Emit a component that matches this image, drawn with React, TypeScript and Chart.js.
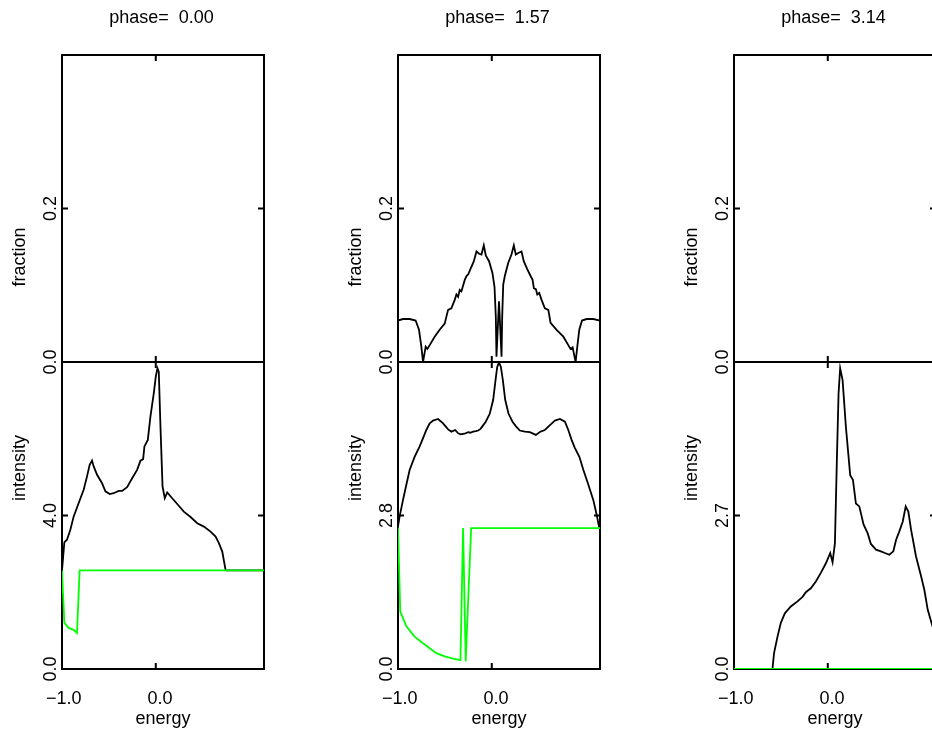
import React, { useEffect, useRef } from "react";
import { Chart, registerables } from "chart.js";

Chart.register(...registerables);

// ---------- data ----------
const energyMin = -1.0;
const energyMax = 1.154;
const energyTicks = [-1.0, 0.0];
const energyTickLabels = ["\u22121.0", " 0.0"];
const phaseTitles = ["phase=  0.00", "phase=  1.57", "phase=  3.14"];

const fractionMax = 0.4;
const fractionTicks = [0.0, 0.2];
const fractionTickLabels = ["0.0", "0.2"];

const intensityMax = [8.0, 5.6, 5.4];
const intensityTickLabels = [
  ["0.0", "4.0"],
  ["0.0", "2.8"],
  ["0.0", "2.7"],
];

// phase 0.00
const p1FracEnergy = [-1.0, 1.154];
const p1Fraction = [0.0, 0.0];
const p1IntEnergy = [-1.0, -0.975, -0.947, -0.911, -0.876, -0.823, -0.769, -0.733, -0.705, -0.68, -0.662, -0.626, -0.573, -0.537, -0.491, -0.449, -0.395, -0.359, -0.306, -0.252, -0.199, -0.163, -0.135, -0.121, -0.085, -0.057, -0.021, 0.0, 0.018, 0.032, 0.05, 0.072, 0.096, 0.122, 0.175, 0.229, 0.299, 0.371, 0.442, 0.513, 0.584, 0.638, 0.673, 0.709, 0.745, 1.154];
const p1Intensity = [2.57, 3.3, 3.37, 3.63, 3.97, 4.32, 4.67, 5.02, 5.32, 5.43, 5.28, 5.06, 4.84, 4.63, 4.56, 4.58, 4.64, 4.64, 4.74, 4.97, 5.19, 5.43, 5.47, 5.8, 5.97, 6.58, 7.19, 7.62, 7.84, 7.75, 6.32, 4.76, 4.45, 4.6, 4.45, 4.3, 4.1, 3.96, 3.8, 3.71, 3.58, 3.45, 3.28, 3.06, 2.57, 2.57];
const p1GreenEnergy = [-1.0, -0.975, -0.929, -0.876, -0.84, -0.812, 1.154];
const p1Green = [2.57, 1.2, 1.07, 1.02, 0.94, 2.57, 2.57];

// phase 1.57
const p2FracEnergy = [-1.0, -0.947, -0.876, -0.812, -0.776, -0.751, -0.733, -0.705, -0.687, -0.662, -0.609, -0.556, -0.502, -0.466, -0.431, -0.395, -0.377, -0.359, -0.342, -0.324, -0.288, -0.27, -0.252, -0.228, -0.192, -0.163, -0.135, -0.11, -0.085, -0.064, -0.028, 0.007, 0.029, 0.043, 0.05, 0.077, 0.104, 0.111, 0.122, 0.139, 0.175, 0.21, 0.235, 0.256, 0.282, 0.317, 0.342, 0.378, 0.406, 0.435, 0.449, 0.47, 0.485, 0.506, 0.531, 0.566, 0.603, 0.627, 0.691, 0.763, 0.816, 0.84, 0.862, 0.894, 0.912, 0.933, 0.962, 1.012, 1.083, 1.154];
const p2Fraction = [0.054, 0.056, 0.056, 0.054, 0.042, 0.02, 0.0, 0.02, 0.017, 0.022, 0.033, 0.042, 0.05, 0.068, 0.07, 0.081, 0.088, 0.085, 0.094, 0.092, 0.107, 0.112, 0.114, 0.121, 0.131, 0.144, 0.141, 0.14, 0.152, 0.139, 0.131, 0.116, 0.098, 0.059, 0.007, 0.079, 0.007, 0.059, 0.101, 0.112, 0.129, 0.14, 0.152, 0.14, 0.142, 0.144, 0.131, 0.121, 0.114, 0.107, 0.096, 0.095, 0.088, 0.09, 0.081, 0.07, 0.068, 0.051, 0.042, 0.033, 0.022, 0.017, 0.019, 0.0, 0.02, 0.042, 0.054, 0.056, 0.056, 0.054];
const p2IntEnergy = [-1.0, -0.983, -0.947, -0.911, -0.876, -0.823, -0.769, -0.733, -0.698, -0.662, -0.626, -0.573, -0.519, -0.466, -0.43, -0.39, -0.359, -0.33, -0.306, -0.28, -0.252, -0.23, -0.199, -0.17, -0.145, -0.12, -0.099, -0.064, -0.021, 0.015, 0.04, 0.058, 0.077, 0.097, 0.118, 0.143, 0.178, 0.221, 0.256, 0.299, 0.353, 0.406, 0.47, 0.52, 0.566, 0.62, 0.673, 0.727, 0.78, 0.816, 0.851, 0.887, 0.934, 0.977, 1.03, 1.083, 1.119, 1.143, 1.154];
const p2Intensity = [2.6, 2.78, 3.08, 3.36, 3.63, 3.87, 4.06, 4.21, 4.36, 4.48, 4.53, 4.56, 4.48, 4.37, 4.33, 4.36, 4.3, 4.28, 4.29, 4.3, 4.32, 4.31, 4.33, 4.34, 4.35, 4.38, 4.43, 4.51, 4.66, 4.91, 5.27, 5.51, 5.59, 5.51, 5.27, 4.91, 4.66, 4.51, 4.43, 4.35, 4.33, 4.32, 4.27, 4.33, 4.36, 4.45, 4.53, 4.56, 4.51, 4.36, 4.18, 4.03, 3.87, 3.63, 3.36, 3.08, 2.81, 2.6, 2.58];
const p2GreenEnergy = [-1.0, -0.976, -0.911, -0.823, -0.733, -0.662, -0.591, -0.502, -0.412, -0.334, -0.306, -0.278, -0.22, 1.154];
const p2Green = [2.58, 1.05, 0.78, 0.59, 0.47, 0.38, 0.29, 0.23, 0.19, 0.16, 2.57, 0.14, 2.57, 2.57];

// phase 3.14
const p3FracEnergy = [-1.0, 1.154];
const p3Fraction = [0.0, 0.0];
const p3IntEnergy = [-1.0, -0.59, -0.573, -0.536, -0.501, -0.458, -0.394, -0.323, -0.269, -0.234, -0.181, -0.127, -0.074, -0.02, 0.026, 0.051, 0.076, 0.097, 0.115, 0.132, 0.158, 0.193, 0.239, 0.268, 0.3, 0.336, 0.382, 0.425, 0.46, 0.514, 0.567, 0.61, 0.656, 0.699, 0.728, 0.763, 0.799, 0.831, 0.859, 0.888, 0.941, 0.995, 1.03, 1.066, 1.112, 1.154];
const p3Intensity = [0.0, 0.0, 0.28, 0.57, 0.81, 0.98, 1.1, 1.19, 1.27, 1.35, 1.42, 1.54, 1.69, 1.86, 2.04, 1.88, 2.21, 3.68, 4.85, 5.29, 5.08, 4.26, 3.41, 3.33, 2.91, 2.86, 2.54, 2.39, 2.2, 2.1, 2.07, 2.04, 2.01, 2.07, 2.27, 2.42, 2.59, 2.86, 2.77, 2.45, 1.98, 1.63, 1.39, 1.04, 0.78, 0.55];
const p3GreenEnergy = [-1.0, 1.154];
const p3Green = [0.0, 0.0];

// ---------- layout ----------
const PAGE_W = 932;
const PAGE_H = 733;
const CANVAS_W = 960;
const COL_LEFT = [62, 398, 734];
const PANEL_W = 202;
const TOP_Y = 55;
const MID_Y = 362;
const BOT_Y = 669;
const FONT = '18px "Liberation Sans", Arial, Helvetica, sans-serif';

function zip(xs: number[], ys: number[]) {
  const n = Math.min(xs.length, ys.length);
  const out: { x: number; y: number }[] = [];
  for (let i = 0; i < n; i++) out.push({ x: xs[i], y: ys[i] });
  return out;
}

type PanelCfg = {
  col: number;
  top: number;
  bottom: number;
  yMax: number;
  yTicks: number[];
  yTickLabels: string[];
  yLabel: string;
  yLabelCenter: number;
  title?: string;
  xAxis: boolean;
  black: { x: number; y: number }[];
  green?: { x: number; y: number }[];
};

const panels: PanelCfg[] = [];
const fracE = [p1FracEnergy, p2FracEnergy, p3FracEnergy];
const fracV = [p1Fraction, p2Fraction, p3Fraction];
const intE = [p1IntEnergy, p2IntEnergy, p3IntEnergy];
const intV = [p1Intensity, p2Intensity, p3Intensity];
const grE = [p1GreenEnergy, p2GreenEnergy, p3GreenEnergy];
const grV = [p1Green, p2Green, p3Green];
for (let c = 0; c < 3; c++) {
  panels.push({
    col: c,
    top: TOP_Y,
    bottom: MID_Y,
    yMax: fractionMax,
    yTicks: fractionTicks,
    yTickLabels: fractionTickLabels,
    yLabel: "fraction",
    yLabelCenter: 257,
    title: phaseTitles[c],
    xAxis: false,
    black: zip(fracE[c], fracV[c]),
  });
  panels.push({
    col: c,
    top: MID_Y,
    bottom: BOT_Y,
    yMax: intensityMax[c],
    yTicks: [0, intensityMax[c] / 2],
    yTickLabels: intensityTickLabels[c],
    yLabel: "intensity",
    yLabelCenter: 468,
    xAxis: true,
    black: zip(intE[c], intV[c]),
    green: zip(grE[c], grV[c]),
  });
}

function makeFramePlugin(cfg: PanelCfg) {
  return {
    id: "frame",
    beforeDatasetsDraw(chart: any) {
      const { ctx, chartArea: a } = chart;
      const xs = chart.scales.x;
      const ys = chart.scales.y;
      ctx.save();
      ctx.strokeStyle = "#000";
      ctx.lineWidth = 2;
      ctx.strokeRect(a.left, a.top, a.right - a.left, a.bottom - a.top);
      // inward ticks
      ctx.beginPath();
      for (const v of energyTicks) {
        const px = xs.getPixelForValue(v);
        ctx.moveTo(px, a.top);
        ctx.lineTo(px, a.top + 6);
        ctx.moveTo(px, a.bottom);
        ctx.lineTo(px, a.bottom - 6);
      }
      for (const v of cfg.yTicks) {
        const py = ys.getPixelForValue(v);
        ctx.moveTo(a.left, py);
        ctx.lineTo(a.left + 6, py);
        ctx.moveTo(a.right, py);
        ctx.lineTo(a.right - 6, py);
      }
      ctx.stroke();
      ctx.restore();
    },
    afterDraw(chart: any) {
      const { ctx, chartArea: a } = chart;
      const xs = chart.scales.x;
      const ys = chart.scales.y;
      ctx.save();
      ctx.fillStyle = "#000";
      ctx.font = FONT;
      // y tick labels (rotated)
      cfg.yTicks.forEach((v, i) => {
        const py = ys.getPixelForValue(v);
        ctx.save();
        ctx.translate(a.left - 6, py);
        ctx.rotate(-Math.PI / 2);
        ctx.textAlign = "center";
        ctx.textBaseline = "alphabetic";
        ctx.fillText(cfg.yTickLabels[i], 0, 0);
        ctx.restore();
      });
      // y axis title
      ctx.save();
      ctx.translate(a.left - 37, cfg.yLabelCenter);
      ctx.rotate(-Math.PI / 2);
      ctx.textAlign = "center";
      ctx.textBaseline = "alphabetic";
      ctx.fillText(cfg.yLabel, 0, 0);
      ctx.restore();
      // panel title
      if (cfg.title) {
        ctx.textAlign = "center";
        ctx.textBaseline = "alphabetic";
        ctx.fillText(cfg.title, (a.left + a.right) / 2 - 1.5, 22.5);
      }
      // x axis labels
      if (cfg.xAxis) {
        ctx.textAlign = "center";
        ctx.textBaseline = "alphabetic";
        energyTicks.forEach((v, i) => {
          const px = xs.getPixelForValue(v);
          ctx.fillText(energyTickLabels[i], px + 1.7, 703.5);
        });
        ctx.fillText("energy", (a.left + a.right) / 2, 723.5);
      }
      ctx.restore();
    },
  };
}

function Panel({ cfg }: { cfg: PanelCfg }) {
  const ref = useRef<HTMLCanvasElement | null>(null);
  useEffect(() => {
    if (!ref.current) return;
    const left = COL_LEFT[cfg.col];
    const datasets: any[] = [
      {
        data: cfg.black,
        borderColor: "#000000",
        borderWidth: 1.8,
        pointRadius: 0,
        tension: 0,
        fill: false,
        order: 2,
      },
    ];
    if (cfg.green) {
      datasets.push({
        data: cfg.green,
        borderColor: "#00ff00",
        borderWidth: 1.8,
        pointRadius: 0,
        tension: 0,
        fill: false,
        order: 1,
      });
    }
    const chart = new Chart(ref.current, {
      type: "line",
      data: { datasets },
      options: {
        responsive: false,
        animation: false,
        events: [],
        layout: {
          padding: {
            left: left,
            right: CANVAS_W - (left + PANEL_W),
            top: cfg.top,
            bottom: PAGE_H - cfg.bottom,
          },
        },
        plugins: {
          legend: { display: false },
          tooltip: { enabled: false },
          title: { display: false },
        },
        scales: {
          x: { type: "linear", min: energyMin, max: energyMax, display: false },
          y: { type: "linear", min: 0, max: cfg.yMax, display: false },
        },
      },
      plugins: [makeFramePlugin(cfg)],
    } as any);
    return () => chart.destroy();
  }, [cfg]);
  return (
    <canvas
      ref={ref}
      width={CANVAS_W}
      height={PAGE_H}
      style={{
        position: "absolute",
        left: 0,
        top: 0,
        width: CANVAS_W,
        height: PAGE_H,
      }}
    />
  );
}

export default function App() {
  return (
    <div
      style={{
        position: "absolute",
        left: 0,
        top: 0,
        width: PAGE_W,
        height: PAGE_H,
        overflow: "hidden",
        background: "#ffffff",
      }}
    >
      {panels.map((p, i) => (
        <Panel key={i} cfg={p} />
      ))}
    </div>
  );
}
